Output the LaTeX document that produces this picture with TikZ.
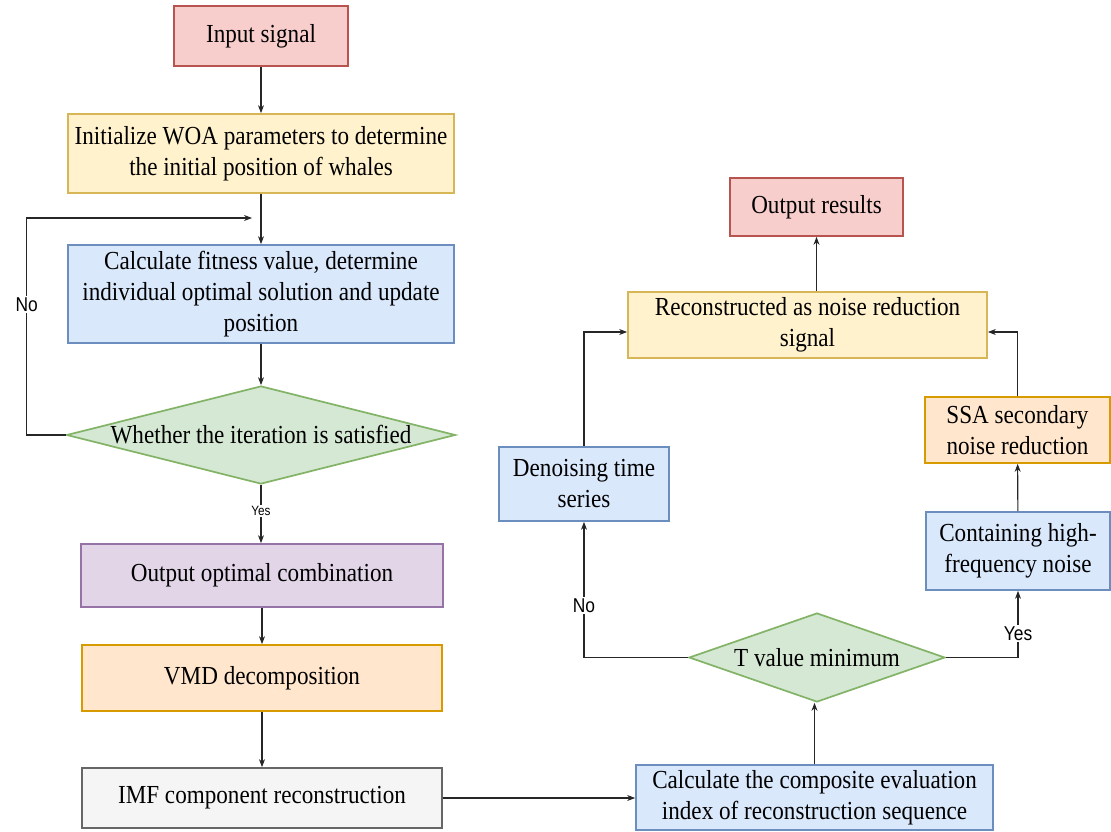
\documentclass[tikz,border=0pt]{standalone}
\usepackage{fontspec}
\setmainfont{Liberation Serif}[FakeStretch=0.89]
\newfontfamily\lblfont{Liberation Sans}[FakeStretch=0.87]
\usetikzlibrary{shapes.geometric,arrows.meta}
\definecolor{redF}{HTML}{F8CECC}\definecolor{redD}{HTML}{B85450}
\definecolor{yelF}{HTML}{FFF2CC}\definecolor{yelD}{HTML}{D6B656}
\definecolor{bluF}{HTML}{DAE8FC}\definecolor{bluD}{HTML}{6C8EBF}
\definecolor{grnF}{HTML}{D5E8D4}\definecolor{grnD}{HTML}{82B366}
\definecolor{purF}{HTML}{E1D5E7}\definecolor{purD}{HTML}{9673A6}
\definecolor{orgF}{HTML}{FFE6CC}\definecolor{orgD}{HTML}{D79B00}
\definecolor{gryF}{HTML}{F5F5F5}\definecolor{gryD}{HTML}{666666}
\begin{document}
\begin{tikzpicture}[x=1pt,y=-1pt,
  box/.style={draw, line width=1.7pt, rectangle, inner sep=0pt, align=center,
    font=\fontsize{26}{31}\selectfont},
  cred/.style={box, fill=redF, draw=redD},
  cyel/.style={box, fill=yelF, draw=yelD},
  cblu/.style={box, fill=bluF, draw=bluD},
  cpur/.style={box, fill=purF, draw=purD},
  corg/.style={box, fill=orgF, draw=orgD},
  cgry/.style={box, fill=gryF, draw=gryD},
  dia/.style={diamond, draw=grnD, fill=grnF, line width=1.7pt, inner sep=0pt,
    label={[font=\fontsize{26}{31}\selectfont, inner sep=0pt]center:#1}},
  arr/.style={-{Stealth[length=8pt,width=6pt]}, line width=1.1pt, draw=black!85},
  lbl/.style={fill=white, font=\lblfont\fontsize{20}{22}\selectfont, inner sep=1.5pt},
  lbls/.style={fill=white, font=\lblfont\fontsize{13.5}{15}\selectfont, inner sep=1.5pt}
]
\useasboundingbox (0,0) rectangle (1111,832);
\fill[white] (0,0) rectangle (1111,832);

% left column
\node[cred, minimum width=174pt, minimum height=60pt] (in) at (261,36) {Input signal};
\node[cyel, minimum width=386pt, minimum height=79pt] (init) at (261,153.5)
  {Initialize WOA parameters to determine\\the initial position of whales};
\node[cblu, minimum width=386pt, minimum height=98pt] (calc) at (261,294)
  {Calculate fitness value, determine\\individual optimal solution and update\\position};
\node[dia={Whether the iteration is satisfied}, minimum width=389pt, minimum height=98pt] (d1) at (261,435) {};
\node[cpur, minimum width=362pt, minimum height=63pt] (oopt) at (262,575.5) {Output optimal combination};
\node[corg, minimum width=360pt, minimum height=66pt] (vmd) at (262,678) {VMD decomposition};
\node[cgry, minimum width=360pt, minimum height=60pt] (imf) at (262,798) {IMF component reconstruction};

% right part
\node[cblu, minimum width=357pt, minimum height=65pt] (comp) at (814.5,797.5)
  {Calculate the composite evaluation\\index of reconstruction sequence};
\node[dia={T value minimum}, minimum width=256pt, minimum height=89pt] (tmin) at (817,657.5) {};
\node[cblu, minimum width=170pt, minimum height=74pt] (den) at (584,484) {Denoising time\\series};
\node[cblu, minimum width=184pt, minimum height=78pt] (cont) at (1018,551) {Containing high-\\frequency noise};
\node[corg, minimum width=185pt, minimum height=66pt] (ssa) at (1017.5,430) {SSA secondary\\noise reduction};
\node[cyel, minimum width=359pt, minimum height=66pt] (rec) at (807.5,325) {Reconstructed as noise reduction\\signal};
\node[cred, minimum width=173pt, minimum height=58pt] (out) at (816.5,207) {Output results};

\coordinate (lp) at (252,218);

% connectors
\draw[arr] (in) -- (init);
\draw[arr] (init) -- (calc);
\draw[arr] (calc) -- (d1);
\draw[arr] (d1.south) -- node[lbls, pos=0.45]{Yes} (d1.south |- oopt.north);
\draw[arr] (d1.west) -- ++(-39,0) |- node[lbl, pos=0.3]{No} (lp);
\draw[arr] (oopt) -- (vmd);
\draw[arr] (vmd) -- (imf);
\draw[arr] (imf.east) -- (imf.east -| comp.west);
\draw[arr] (comp.north) -- (comp.north |- tmin.south);
\draw[arr] (tmin.west) -| node[lbl, pos=0.69]{No} (den.south);
\draw[arr] (tmin.east) -| node[lbl, pos=0.68]{Yes} (cont.south);
\draw[arr] (cont) -- (ssa);
\draw[arr] (ssa.north) |- ([yshift=-7pt]rec.east);
\draw[arr] (den.north) |- ([yshift=-7pt]rec.west);
\draw[arr] (rec.north -| out.south) -- (out.south);
\end{tikzpicture}
\end{document}
